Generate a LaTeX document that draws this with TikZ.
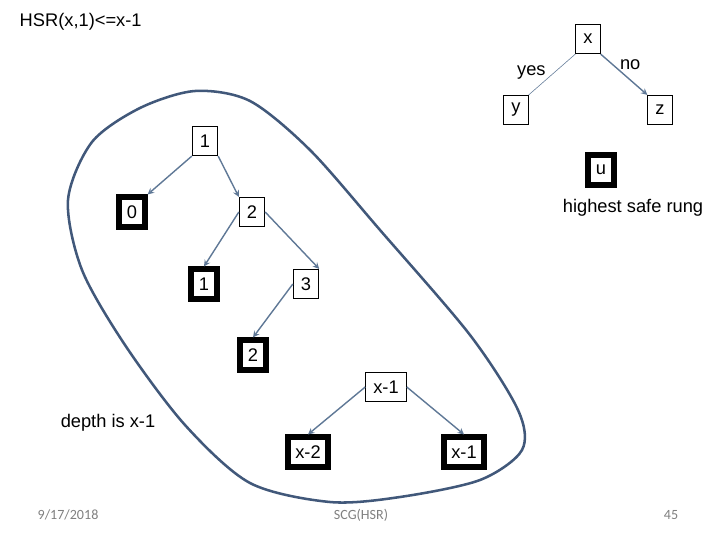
\documentclass[tikz,border=0pt]{standalone}
\usepackage{fontspec}
\setmainfont{Liberation Sans}
\newfontfamily\footfont{Carlito}
\definecolor{edgeblue}{RGB}{95,120,150}
\definecolor{loopblue}{RGB}{65,88,122}
\begin{document}
\begin{tikzpicture}[x=0.025cm,y=-0.025cm,>=stealth,
	box/.style={draw,line width=0.7pt,inner xsep=0.19cm,inner ysep=0pt,minimum height=0.73cm,font=\fontsize{13}{15}\selectfont},
	safe/.style={box,line width=4.2pt},
	txt/.style={font=\fontsize{13}{15}\selectfont,inner sep=1pt},
	foot/.style={font=\footfont\fontsize{10}{11}\selectfont,text=gray},
	edge/.style={->,draw=edgeblue,line width=1pt}]
	\useasboundingbox (0,0) rectangle (720,540);
	\node[txt,anchor=west] (title) at (18,22) {HSR(x,1)<=x-1};
	% question node
	\node[box] (x) at (588,39) {x};
	\node[box] (y) at (516,110) {y};
	\node[box] (z) at (660,110) {z};
	\draw[draw=edgeblue,line width=0.4pt] (x.south west)--(y.north east) node[txt,pos=0.45,left=5pt] {yes};
	\draw[edge] (x.south east)--(z.north west) node[txt,pos=0.25,right=4pt] {no};
	\node[safe] (u) at (601,170) {u};
	\node[txt] (rung) at (633,208) {highest safe rung};
	% tree
	\node[box] (n1) at (205,141) {1};
	\node[safe] (n0) at (132,212) {0};
	\node[box] (n2) at (252,212) {2};
	\node[safe] (m1) at (204,284) {1};
	\node[box] (n3) at (306,284) {3};
	\node[safe] (m2) at (253,355) {2};
	\node[box] (nx) at (386,387) {x-1};
	\node[safe] (mx2) at (308,452) {x-2};
	\node[safe] (mx1) at (464,452) {x-1};
	\draw[edge] (n1.south west)--(n0.north east);
	\draw[edge] (n1.south east)--(n2.north west);
	\draw[edge] (n2.west)--(m1.north);
	\draw[edge] (n2.east)--(n3.north east);
	\draw[edge] (n3.west)--(m2.north);
	\draw[edge] (nx.west)--(mx2.north);
	\draw[edge] (nx.east)--(mx1.north);
	\node[txt] (depth) at (108,423) {depth is x-1};
	\draw[loopblue,line width=1.8pt] plot[smooth cycle] coordinates {(195,91) (250,101) (310,150) (380,230) (470,335) (518,410) (522,450) (480,480) (400,497) (330,502) (250,483) (185,425) (125,345) (82,270) (68,200) (92,142) (140,108)};
	% footer
	\node[foot] (date) at (68,515) {9/17/2018};
	\node[foot] (src) at (361,515) {SCG(HSR)};
	\node[foot] (page) at (671,515) {45};
\end{tikzpicture}
\end{document}
